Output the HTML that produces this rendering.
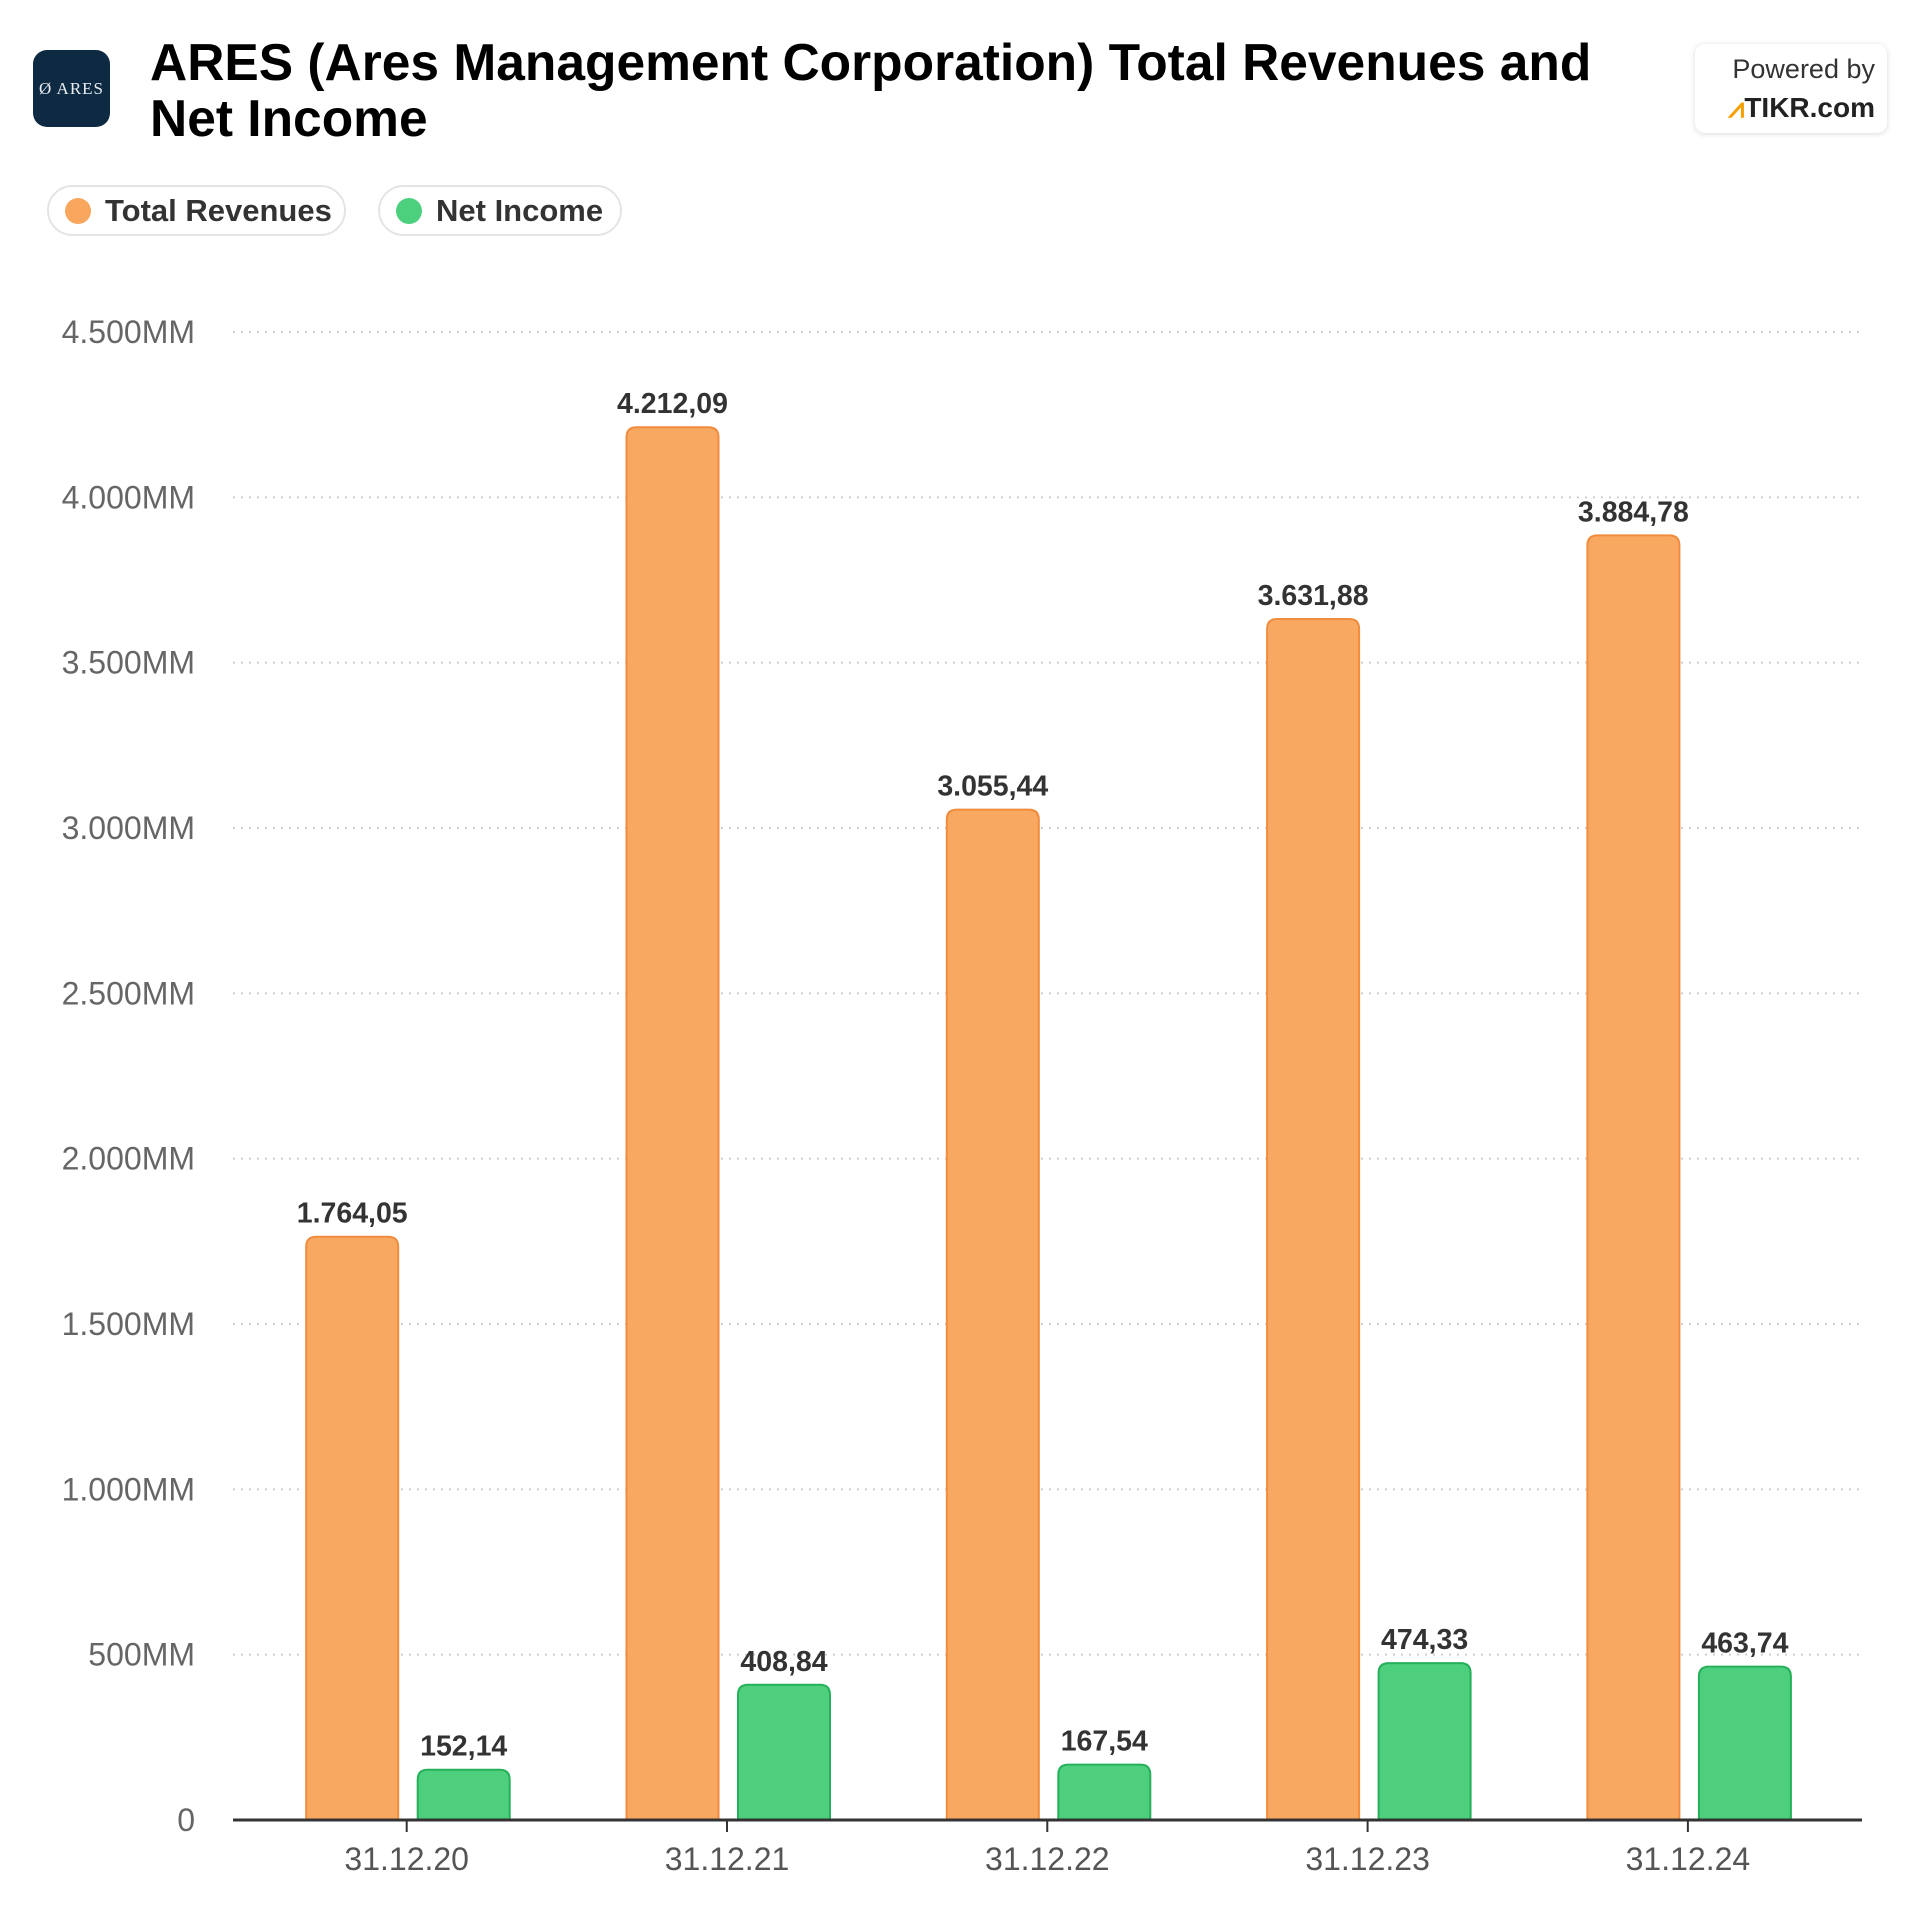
<!DOCTYPE html>
<html><head><meta charset="utf-8"><style>
body{margin:0;width:1920px;height:1920px;background:#fff;font-family:"Liberation Sans",Arial,sans-serif;position:relative;overflow:hidden}
.abs{position:absolute}
</style></head><body>
<div class="abs" style="left:33px;top:50px;width:77px;height:77px;border-radius:14px;background:#0d2a42;color:#e8edf2;font-family:'Liberation Serif',serif;font-size:17px;display:flex;align-items:center;justify-content:center;letter-spacing:1px">Ø ARES</div>
<div class="abs" style="left:150px;top:34px;font-size:51.5px;font-weight:bold;line-height:56px;color:#000;width:1540px">ARES (Ares Management Corporation) Total Revenues and<br>Net Income</div>
<div class="abs" style="left:1695px;top:44px;width:192px;height:89px;border-radius:10px;box-shadow:0 1px 6px rgba(0,0,0,0.15);background:#fff;text-align:right">
<div style="position:absolute;right:12px;top:10px;font-size:27px;color:#333">Powered by</div>
<div style="position:absolute;right:12px;top:48px;font-size:28px;font-weight:bold;color:#222"><span style="color:#f5a000">⩘</span>TIKR.com</div>
</div>
<div class="abs" style="left:47px;top:185px;width:299px;height:51px;border:2px solid #e4e4e4;border-radius:26px;box-sizing:border-box;display:flex;align-items:center;font-size:31px;font-weight:bold;color:#333"><span style="width:26px;height:26px;border-radius:50%;background:#f9a65e;margin:0 14px 0 16px"></span>Total Revenues</div>
<div class="abs" style="left:378px;top:185px;width:244px;height:51px;border:2px solid #e4e4e4;border-radius:26px;box-sizing:border-box;display:flex;align-items:center;font-size:31px;font-weight:bold;color:#333"><span style="width:26px;height:26px;border-radius:50%;background:#4cd07d;margin:0 14px 0 16px"></span>Net Income</div>
<svg class="abs" style="left:0;top:0" width="1920" height="1920" id="chart"></svg>
<script>
const categories=["31.12.20","31.12.21","31.12.22","31.12.23","31.12.24"];
const revenues=[1764.05,4212.09,3055.44,3631.88,3884.78];
const netIncome=[152.14,408.84,167.54,474.33,463.74];
const yTicks=[0,500,1000,1500,2000,2500,3000,3500,4000,4500];
const yTickLabels=["0","500MM","1.000MM","1.500MM","2.000MM","2.500MM","3.000MM","3.500MM","4.000MM","4.500MM"];
const NS="http://www.w3.org/2000/svg";
const svg=document.getElementById('chart');
const y0=1820,y1=332,vmax=4500,xL=233,xR=1862;
const yS=v=>y0-(v/vmax)*(y0-y1);
const xC=i=>406.7+i*320.3;
function mk(t,a){const e=document.createElementNS(NS,t);for(const k in a)e.setAttribute(k,a[k]);svg.appendChild(e);return e;}
function fmt(v){const s=v.toFixed(2).split('.');return s[0].replace(/\B(?=(\d{3})+(?!\d))/g,'.')+','+s[1];}
yTicks.forEach((t,i)=>{
 if(t>0){const g=mk('line',{x1:xL,x2:xR,y1:yS(t),y2:yS(t),stroke:'#d0d0d0','stroke-width':2,'stroke-dasharray':'2,6'});
 
 }
 const l=mk('text',{x:195,y:yS(t)+11,'text-anchor':'end','font-size':32,fill:'#666','font-family':'Liberation Sans'});
 l.textContent=yTickLabels[i];
 
 
});
function bar(cx,v,fill,stroke,name){
 const w=92,top=yS(v),r=10;
 const p=mk('path',{d:`M${cx-w/2},${y0} V${top+r} Q${cx-w/2},${top} ${cx-w/2+r},${top} H${cx+w/2-r} Q${cx+w/2},${top} ${cx+w/2},${top+r} V${y0} Z`,fill:fill,stroke:stroke,'stroke-width':2});
 
 
 const t=mk('text',{x:cx,y:top-14,'text-anchor':'middle','font-size':28.5,'font-weight':'bold',fill:'#333','font-family':'Liberation Sans'});
 t.textContent=fmt(v);
 
 
}
categories.forEach((c,i)=>{
 bar(xC(i)-54.5,revenues[i],'#f9a861','#f08c3e','bar-revenue-'+c);
 bar(xC(i)+57,netIncome[i],'#4ecf7d','#27b05b','bar-net-income-'+c);
 const tk=mk('line',{x1:xC(i),x2:xC(i),y1:y0,y2:y0+12,stroke:'#333','stroke-width':2});
 
 
 const l=mk('text',{x:xC(i),y:y0+50,'text-anchor':'middle','font-size':32,fill:'#555','font-family':'Liberation Sans'});
 l.textContent=c;
 
 
});
const ax=mk('line',{x1:xL,x2:xR,y1:y0,y2:y0,stroke:'#333','stroke-width':3});


</script>
</body></html>
